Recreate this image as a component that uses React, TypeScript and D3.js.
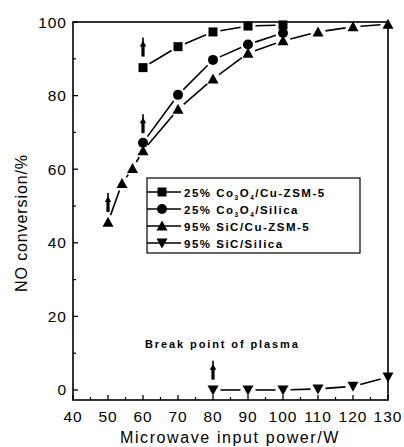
import React from "react";
import * as d3 from "d3";

const xTicks = [40, 50, 60, 70, 80, 90, 100, 110, 120, 130];
const yTicks = [0, 20, 40, 60, 80, 100];

const sqX = [60, 70, 80, 90, 100];
const sqY = [87.6, 93.3, 97.3, 98.9, 99.2];
const ciX = [60, 70, 80, 90, 100];
const ciY = [67.2, 80.2, 89.7, 93.9, 97.0];
const upX = [50, 54, 57, 60, 70, 80, 90, 100, 110, 120, 130];
const upY = [45.6, 56.1, 60.2, 65.0, 76.3, 84.5, 91.5, 94.9, 97.3, 98.7, 99.4];
const dnX = [80, 90, 100, 110, 120, 130];
const dnY = [0, 0, 0, 0.3, 1.0, 3.5];

// arrows: x value and y value of arrow's lower end
const arrowX = [60, 60, 50, 80];
const arrowY = [90.6, 69.8, 48.4, 2.8];

const legendLabels = [
  ["25% Co", "3", "O", "4", "/Cu-ZSM-5"],
  ["25% Co", "3", "O", "4", "/Silica"],
  ["95% SiC/Cu-ZSM-5"],
  ["95% SiC/Silica"],
];
const symbols = ["square", "circle", "up", "down"];

const W = 404, H = 447;
const L = 73, R = 388, T = 22, B = 400;
const x = d3.scaleLinear().domain([40, 130]).range([L, R]);
const y = d3.scaleLinear().domain([-2.72, 100]).range([B, T]);

function Marker({ type, cx, cy }: { type: string; cx: number; cy: number }) {
  if (type === "square") return <rect x={cx - 4.5} y={cy - 4.5} width={9} height={9} fill="#000" />;
  if (type === "circle") return <circle cx={cx} cy={cy} r={5} fill="#000" />;
  if (type === "up")
    return <path d={`M${cx},${cy - 5.5}L${cx + 5.5},${cy + 4.5}L${cx - 5.5},${cy + 4.5}Z`} fill="#000" />;
  return <path d={`M${cx},${cy + 5.5}L${cx + 5.5},${cy - 4.5}L${cx - 5.5},${cy - 4.5}Z`} fill="#000" />;
}

function Series({ xs, ys, type }: { xs: number[]; ys: number[]; type: string }) {
  const pts = xs.map((v, i) => [x(v), y(ys[i])]);
  const segs = [] as any[];
  for (let i = 0; i < pts.length - 1; i++) {
    const [x1, y1] = pts[i];
    const [x2, y2] = pts[i + 1];
    const dx = x2 - x1, dy = y2 - y1;
    const len = Math.hypot(dx, dy);
    const g = 7.5;
    if (len <= 2 * g) continue;
    const ux = dx / len, uy = dy / len;
    segs.push(
      <line key={i} x1={x1 + ux * g} y1={y1 + uy * g} x2={x2 - ux * g} y2={y2 - uy * g} stroke="#000" strokeWidth={1.6} />
    );
  }
  return (
    <g>
      {segs}
      {pts.map((p, i) => (
        <Marker key={i} type={type} cx={p[0]} cy={p[1]} />
      ))}
    </g>
  );
}

function Arrow({ cx, cy }: { cx: number; cy: number }) {
  const top = cy - 19;
  return (
    <g fill="#000">
      <rect x={cx - 0.8} y={top} width={1.6} height={5} />
      <path d={`M${cx},${top + 3}L${cx + 3.2},${top + 9}L${cx - 3.2},${top + 9}Z`} />
      <rect x={cx - 1.6} y={top + 8} width={3.2} height={cy - top - 8} />
    </g>
  );
}

export default function App() {
  const xMinor = d3.range(45, 130, 10);
  const yMinor = [10, 30, 50, 70, 90];
  const font = "Arial, 'Liberation Sans', sans-serif";
  const lgX = 147, lgY = 178, lgW = 213, lgH = 75;
  const rows = [192, 209, 226, 243];
  return (
    <svg width={W} height={H} style={{ position: "absolute", left: 0, top: 0 }} fontFamily={font}>
      <rect width={W} height={H} fill="#fff" />
      {xTicks.map((t) => (
        <g key={"xt" + t}>
          <line x1={x(t)} x2={x(t)} y1={B} y2={B - 5} stroke="#000" strokeWidth={1.3} />
          <text x={x(t)} y={B + 22} textAnchor="middle" fontSize={15.5} letterSpacing={1}>{t}</text>
        </g>
      ))}
      {xMinor.map((t) => (
        <line key={"xm" + t} x1={x(t)} x2={x(t)} y1={B} y2={B - 3} stroke="#000" strokeWidth={1.2} />
      ))}
      {yTicks.map((t) => (
        <g key={"yt" + t}>
          <line x1={L} x2={L + 5} y1={y(t)} y2={y(t)} stroke="#000" strokeWidth={1.3} />
          <text x={L - 6} y={y(t) + 5.5} textAnchor="end" fontSize={15.5} letterSpacing={1}>{t}</text>
        </g>
      ))}
      {yMinor.map((t) => (
        <line key={"ym" + t} x1={L} x2={L + 3} y1={y(t)} y2={y(t)} stroke="#000" strokeWidth={1.2} />
      ))}
      <Series xs={sqX} ys={sqY} type="square" />
      <Series xs={ciX} ys={ciY} type="circle" />
      <Series xs={upX} ys={upY} type="up" />
      <Series xs={dnX} ys={dnY} type="down" />
      {arrowX.map((a, i) => (
        <Arrow key={i} cx={x(a)} cy={y(arrowY[i])} />
      ))}
      <rect x={L} y={T} width={R - L} height={B - T} fill="none" stroke="#000" strokeWidth={1.6} />
      <rect x={lgX} y={lgY} width={lgW} height={lgH} fill="#fff" stroke="#000" strokeWidth={1.2} />
      {rows.map((ry, i) => (
        <g key={"lg" + i}>
          <line x1={lgX} x2={lgX + 34} y1={ry} y2={ry} stroke="#000" strokeWidth={1.6} />
          <Marker type={symbols[i]} cx={lgX + 15} cy={ry} />
          <text x={lgX + 37} y={ry + 4.5} fontSize={11.5} fontWeight="bold" letterSpacing={1.5}>
            {legendLabels[i].length === 1 ? (
              legendLabels[i][0]
            ) : (
              <>
                <tspan>{legendLabels[i][0]}</tspan>
                <tspan fontSize={6.5} dy={3}>{legendLabels[i][1]}</tspan>
                <tspan dy={-3}>{legendLabels[i][2]}</tspan>
                <tspan fontSize={6.5} dy={3}>{legendLabels[i][3]}</tspan>
                <tspan dy={-3}>{legendLabels[i][4]}</tspan>
              </>
            )}
          </text>
        </g>
      ))}
      <text x={145} y={348} fontSize={11} fontWeight="bold" letterSpacing={1.9}>Break point of plasma</text>
      <text x={230} y={443} textAnchor="middle" fontSize={16} letterSpacing={1.6}>Microwave input power/W</text>
      <text transform={`translate(27,223) rotate(-90)`} textAnchor="middle" fontSize={16} letterSpacing={0.9}>
        NO conversion/%
      </text>
    </svg>
  );
}
